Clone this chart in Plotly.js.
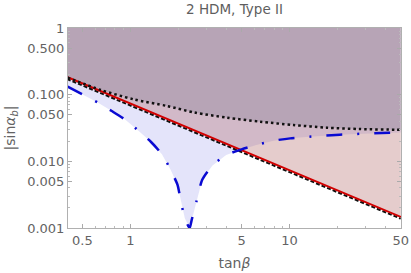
<!DOCTYPE html>
<html>
<head>
<meta charset="utf-8">
<script src="https://cdn.plot.ly/plotly-3.0.1.min.js"></script>
<style>
html,body{margin:0;padding:0;background:#fff;}
#chart{width:411px;height:273px;}
</style>
</head>
<body>
<div id="chart"></div>
<script>
// ---- data ----
const blueX = [0.404, 0.501, 0.628, 0.764, 0.935, 1.13, 1.35, 1.58, 1.795, 1.98, 2.07, 2.20, 2.36,
               2.43, 2.60, 2.83, 3.27, 4.0, 5.0, 6.19, 7.94, 10.1, 12.7, 16.3, 20.7, 26.3, 33.9, 42.6, 50];
const blueY = [0.132, 0.101, 0.0758, 0.0569, 0.0417, 0.0285, 0.0195, 0.01276, 0.00741, 0.00442, 0.00263, 0.0014, 0.001,
               0.00132, 0.00248, 0.0053, 0.0086, 0.01245, 0.0151, 0.0176, 0.0204, 0.0221, 0.0232, 0.0243, 0.0251, 0.0257, 0.0264, 0.0268, 0.027];
const dotX = [0.404, 0.652, 1.05, 1.70, 2.53, 4.06, 6.56, 10.6, 17.1, 27.7, 46.8, 50];
const dotY = [0.180, 0.1175, 0.0851, 0.0676, 0.054, 0.0452, 0.0393, 0.0351, 0.032, 0.0305, 0.0298, 0.0297];
const redX = [0.4, 50];
const redY = [0.184, 0.00147];
const blackX = [0.4, 50];
const blackY = [0.172, 0.00138];
const topY = 1;
const xTickVals = [0.5, 1, 5, 10, 50];
const xTickText = ["0.5", "1", "5", "10", "50"];
const yTickVals = [0.001, 0.005, 0.01, 0.05, 0.1, 0.5, 1];
const yTickText = ["0.001", "0.005", "0.010", "0.050", "0.100", "0.500", "1"];

// minor tick positions (decade subdivisions)
const xMinor = [], yMinor = [];
[0.1, 1, 10].forEach(d => { for (let k = 2; k <= 9; k++) xMinor.push(k * d); });
[0.001, 0.01, 0.1].forEach(d => { for (let k = 2; k <= 9; k++) yMinor.push(k * d); });

function band(xs, ys) {
  return { x: xs.concat([xs[xs.length - 1], xs[0]]), y: ys.concat([topY, topY]) };
}
const bBand = band(blueX, blueY), rBand = band(redX, redY), dBand = band(dotX, dotY);

const traces = [
  { x: bBand.x, y: bBand.y, mode: 'lines', fill: 'toself', fillcolor: 'rgba(120,120,230,0.2)', line: { width: 0 }, hoverinfo: 'skip', showlegend: false },
  { x: rBand.x, y: rBand.y, mode: 'lines', fill: 'toself', fillcolor: 'rgba(170,85,85,0.3)', line: { width: 0 }, hoverinfo: 'skip', showlegend: false },
  { x: dBand.x, y: dBand.y, mode: 'lines', fill: 'toself', fillcolor: 'rgba(124,115,144,0.3)', line: { width: 0 }, hoverinfo: 'skip', showlegend: false },
  { x: blackX, y: blackY, mode: 'lines', line: { color: '#111', width: 2, dash: '4px,2px' }, showlegend: false },
  { x: redX, y: redY, mode: 'lines', line: { color: '#d10000', width: 2 }, showlegend: false },
  { x: blueX, y: blueY, mode: 'lines', line: { color: '#0a0ad2', width: 2.5, dash: '16px,15px,2px,15px', shape: 'spline', smoothing: 0.6 }, showlegend: false },
  { x: dotX, y: dotY, mode: 'lines', line: { color: '#111', width: 2.5, dash: '2.5px,3px', shape: 'spline', smoothing: 0.8 }, showlegend: false }
];

const axisFont = { family: 'DejaVu Sans, sans-serif', size: 13, color: '#636363' };
const titleFont = { family: 'DejaVu Sans, sans-serif', size: 14, color: '#636363' };
const layout = {
  width: 411, height: 273,
  margin: { l: 68, r: 10, t: 28, b: 45 },
  paper_bgcolor: '#fff', plot_bgcolor: '#fff',
  title: { text: '2 HDM, Type II', font: { family: 'DejaVu Sans, sans-serif', size: 13.5, color: '#5e5e5e' },
           xref: 'paper', x: 0.5, xanchor: 'center', yref: 'container', y: 0.965, yanchor: 'middle' },
  xaxis: {
    type: 'log', range: [Math.log10(0.406), Math.log10(50.2)],
    tickmode: 'array', tickvals: xTickVals, ticktext: xTickText,
    tickfont: axisFont, ticks: 'inside', ticklen: 4, tickcolor: '#aaa',
    minor: { tickmode: 'array', tickvals: xMinor, ticks: 'inside', ticklen: 2, tickcolor: '#bbb' },
    showgrid: false, zeroline: false, showline: true, linecolor: '#b0b0b0', linewidth: 1, mirror: 'ticks',
    title: { text: 'tan<i>β</i>', font: titleFont, standoff: 11 }
  },
  yaxis: {
    type: 'log', range: [-3, 0],
    tickmode: 'array', tickvals: yTickVals, ticktext: yTickText,
    tickfont: axisFont, ticks: 'inside', ticklen: 4, tickcolor: '#aaa',
    minor: { tickmode: 'array', tickvals: yMinor, ticks: 'inside', ticklen: 2, tickcolor: '#bbb' },
    showgrid: false, zeroline: false, showline: true, linecolor: '#b0b0b0', linewidth: 1, mirror: 'ticks',
    title: { text: '|sin<i>α</i><sub><i>b</i></sub>|', font: titleFont, standoff: 8 }
  }
};

Plotly.newPlot('chart', traces, layout, { staticPlot: true, displayModeBar: false });
</script>
</body>
</html>
